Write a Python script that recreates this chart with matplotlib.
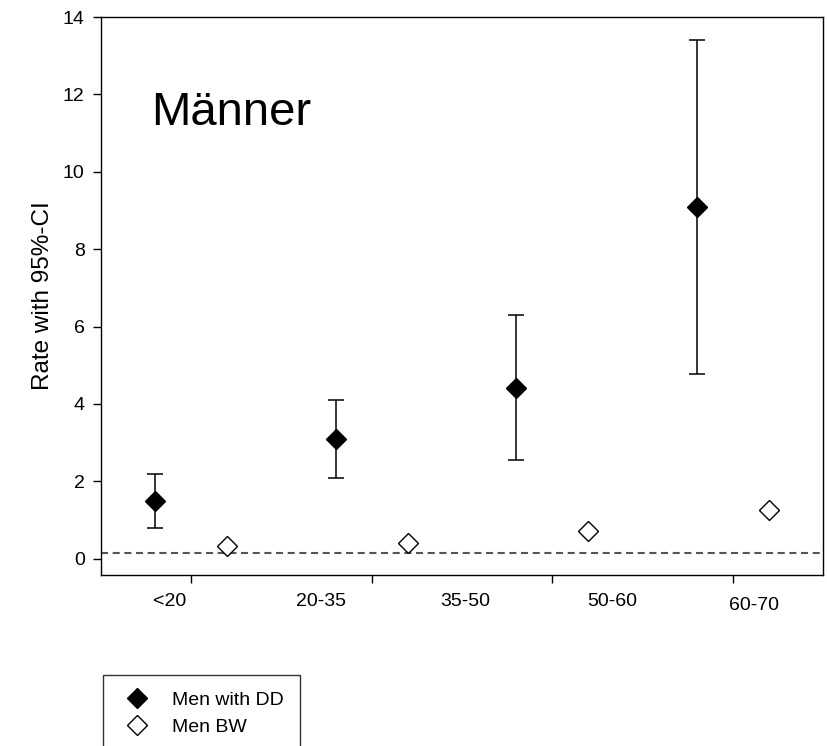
import numpy as np
import matplotlib.pyplot as plt

plt.rcParams['font.family'] = ['Liberation Sans', 'DejaVu Sans']

groups = ['<20', '20-35', '35-50', '50-60', '60-70']
dd_rate = [1.5, 3.1, 4.4, 9.1]
dd_low = [0.8, 2.1, 2.55, 4.77]
dd_high = [2.2, 4.1, 6.3, 13.4]
bw_rate = [0.32, 0.4, 0.72, 1.25]
ref_line = 0.15

# the group labels do not sit on the ticks in the original
label_x = [0.88, 1.72, 2.52, 3.33, 4.12]
label_y = [-0.048, -0.048, -0.048, -0.048, -0.054]

idx = np.arange(1, len(dd_rate) + 1)
dd_rate = np.array(dd_rate)
yerr = [dd_rate - np.array(dd_low), np.array(dd_high) - dd_rate]

fig = plt.figure(figsize=(8.28, 7.46), dpi=100)
ax = fig.add_axes([0.122, 0.2292, 0.872, 0.748])

ax.errorbar(idx - 0.2, dd_rate, yerr=yerr, fmt='none', ecolor='black',
            elinewidth=1.1, capsize=5.5, capthick=1.1, zorder=2)
ax.plot(idx - 0.2, dd_rate, 'D', color='black', markersize=10.5,
        linestyle='none', label='Men with DD', zorder=3)
ax.plot(idx + 0.2, bw_rate, 'D', markerfacecolor='white',
        markeredgecolor='black', markeredgewidth=1.0, markersize=10.5,
        linestyle='none', label='Men BW', zorder=3)
ax.axhline(ref_line, color='#555555', linewidth=1.5, dashes=(3.4, 2.2), zorder=1)

ax.set_xlim(0.5, 4.5)
ax.set_ylim(-0.42, 14)
ax.set_yticks(np.arange(0, 15, 2))
ax.set_xticks(idx)
ax.set_xticklabels([])
ax.tick_params(direction='out', length=5.8, width=1.0, labelsize=14, pad=6)
for s in ax.spines.values():
    s.set_linewidth(1.0)

for lx, ly, g in zip(label_x, label_y, groups):
    ax.text(lx, ly, g, transform=ax.get_xaxis_transform(), ha='center',
            va='center', fontsize=14)

ax.set_ylabel('Rate with 95%-CI', fontsize=17.5, labelpad=6)
ax.text(0.775, 11.2, 'Männer', fontsize=34, ha='left', va='baseline')

leg = ax.legend(loc='upper left', bbox_to_anchor=(103 / 828, 1 - 675 / 746),
                bbox_transform=fig.transFigure, fontsize=14, frameon=True,
                fancybox=False, edgecolor='black', borderpad=0.85,
                handlelength=1.8, handletextpad=0.9, labelspacing=0.45,
                borderaxespad=0, numpoints=1)
leg.get_frame().set_linewidth(1.0)

fig.savefig('out.png', dpi=100)
